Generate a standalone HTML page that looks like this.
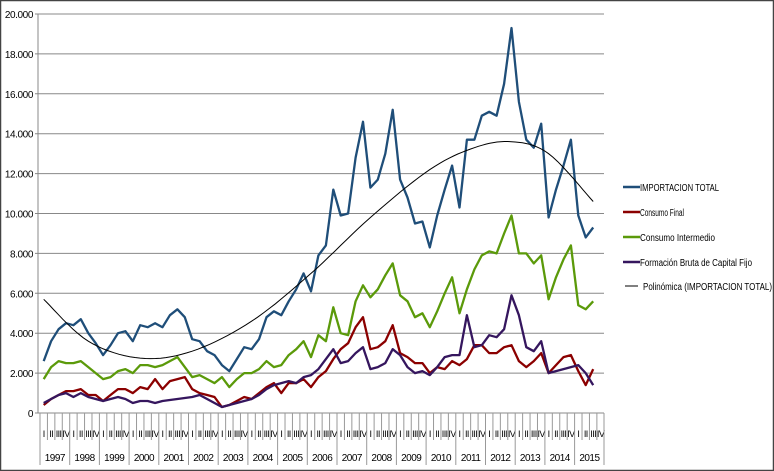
<!DOCTYPE html>
<html><head><meta charset="utf-8"><style>
body{margin:0;background:#fff}
svg{display:block}
text{font-family:"Liberation Sans",sans-serif;fill:#000}
</style></head><body>
<svg id="s" width="774" height="471" xmlns="http://www.w3.org/2000/svg">
<rect x="0.5" y="0.5" width="773" height="470" fill="#fff" stroke="#444" stroke-width="1.5"/>
<g id="g"></g>
<text x="640" y="191" font-size="10" textLength="79" lengthAdjust="spacingAndGlyphs">IMPORTACION TOTAL</text>
<text x="640" y="216" font-size="10" textLength="44" lengthAdjust="spacingAndGlyphs">Consumo Final</text>
<text x="640" y="241" font-size="10" textLength="75" lengthAdjust="spacingAndGlyphs">Consumo Intermedio</text>
<text x="640" y="266" font-size="10" textLength="112" lengthAdjust="spacingAndGlyphs">Formación Bruta de Capital Fijo</text>
<text x="643" y="290" font-size="10" textLength="129" lengthAdjust="spacingAndGlyphs">Polinómica (IMPORTACION TOTAL)</text>
<line x1="623" y1="187" x2="640" y2="187" stroke="#1f4e79" stroke-width="2.5"/>
<line x1="623" y1="212" x2="640" y2="212" stroke="#8b0000" stroke-width="2.5"/>
<line x1="623" y1="237" x2="640" y2="237" stroke="#5b9a0a" stroke-width="2.5"/>
<line x1="623" y1="262" x2="640" y2="262" stroke="#35165e" stroke-width="2.5"/>
<line x1="625" y1="286" x2="638" y2="286" stroke="#000" stroke-width="1"/>
</svg>
<script>
var g=document.getElementById('g'),h='';
var X0=40,YW=29.7,Q=YW/4,Y0=413,S=19.95;
function y(v){return Y0-v*S}
for(var k=0;k<=10;k++){var yy=y(k*2);h+='<line x1="35" y1="'+yy+'" x2="604" y2="'+yy+'" stroke="#888" stroke-width="1"/>';
var lab=k==0?'0':(k*2)+'.000';h+='<text x="33" y="'+(yy+4)+'" font-size="10" text-anchor="end" letter-spacing="-0.4">'+lab+'</text>';}
h+='<line x1="38" y1="14" x2="38" y2="413" stroke="#888"/>';
var qn=['I','II','III','IV'];
for(var i=0;i<19;i++){var xs=X0+i*YW;h+='<line x1="'+xs+'" y1="413" x2="'+xs+'" y2="465" stroke="#999"/>';
for(var q=1;q<4;q++){var xq=xs+q*Q;h+='<line x1="'+xq+'" y1="413" x2="'+xq+'" y2="440" stroke="#999"/>';}
for(var q=0;q<4;q++){h+='<text x="'+(xs+(q+0.5)*Q)+'" y="437" font-size="9" text-anchor="middle" letter-spacing="-0.6">'+qn[q]+'</text>';}
h+='<text x="'+(xs+YW/2)+'" y="461" font-size="10" text-anchor="middle" letter-spacing="-0.5">'+(1997+i)+'</text>';}
h+='<line x1="604" y1="413" x2="604" y2="465" stroke="#999"/>';
var imp=[2.6,3.6,4.2,4.5,4.4,4.7,4.0,3.5,2.9,3.4,4.0,4.1,3.6,4.4,4.3,4.5,4.3,4.9,5.2,4.8,3.7,3.6,3.1,2.9,2.4,2.1,2.7,3.3,3.2,3.7,4.8,5.1,4.9,5.6,6.2,7.0,6.1,7.9,8.4,11.2,9.9,10.0,12.8,14.6,11.3,11.7,13.0,15.2,11.7,10.8,9.5,9.6,8.3,9.9,11.2,12.4,10.3,13.7,13.7,14.9,15.1,14.9,16.5,19.3,15.6,13.7,13.3,14.5,9.8,11.2,12.4,13.7,9.9,8.8,9.3];
var ci=[1.7,2.3,2.6,2.5,2.5,2.6,2.3,2.0,1.7,1.8,2.1,2.2,2.0,2.4,2.4,2.3,2.4,2.6,2.8,2.3,1.8,1.9,1.7,1.5,1.8,1.3,1.7,2.0,2.0,2.2,2.6,2.3,2.4,2.9,3.2,3.6,2.8,3.9,3.6,5.3,4.0,3.9,5.6,6.4,5.8,6.2,6.9,7.5,5.9,5.6,4.8,5.0,4.3,5.1,6.0,6.8,5.0,6.2,7.2,7.9,8.1,8.0,9.0,9.9,8.0,8.0,7.5,7.9,5.7,6.8,7.7,8.4,5.4,5.2,5.6];
var cf=[0.4,0.7,0.9,1.1,1.1,1.2,0.9,0.9,0.6,0.9,1.2,1.2,1.0,1.3,1.2,1.7,1.2,1.6,1.7,1.8,1.2,1.0,0.9,0.8,0.3,0.4,0.6,0.8,0.7,1.0,1.3,1.5,1.0,1.5,1.5,1.7,1.3,1.8,2.1,2.7,3.2,3.5,4.3,4.8,3.2,3.3,3.6,4.4,3.0,2.8,2.5,2.5,2.0,2.3,2.2,2.6,2.4,2.7,3.4,3.4,3.0,3.0,3.3,3.4,2.6,2.3,2.6,3.0,2.0,2.4,2.8,2.9,2.1,1.4,2.2];
var fb=[0.5,0.7,0.9,1.0,0.8,1.0,0.8,0.7,0.6,0.7,0.8,0.7,0.5,0.6,0.6,0.5,0.6,0.65,0.7,0.75,0.8,0.9,0.7,0.5,0.3,0.4,0.5,0.6,0.7,0.9,1.2,1.4,1.5,1.6,1.5,1.8,1.9,2.2,2.7,3.2,2.5,2.6,3.0,3.3,2.2,2.3,2.5,3.2,2.9,2.3,2.0,2.1,1.9,2.3,2.8,2.9,2.9,4.9,3.3,3.4,3.9,3.8,4.2,5.9,4.9,3.3,3.1,3.6,2.0,2.1,2.2,2.3,2.4,2.0,1.4];
function px(i){return X0+(i+0.5)*Q}
function line(d,c){var p=d.map(function(v,i){return px(i).toFixed(1)+','+y(v).toFixed(1)}).join(' ');return '<polyline points="'+p+'" fill="none" stroke="'+c+'" stroke-width="2.3" stroke-linejoin="round"/>';}
h+=line(ci,'#5b9a0a')+line(cf,'#8b0000')+line(fb,'#35165e')+line(imp,'#1f4e79');
var k2=[[0,5.7],[6,3.6],[13,2.75],[20,3.1],[28,4.6],[36,7.0],[44,9.8],[52,12.2],[58,13.3],[63,13.6],[68,13.0],[74,10.6]];
var pts=[];
for(var i=0;i<k2.length-1;i++){var p0=k2[Math.max(0,i-1)],p1=k2[i],p2=k2[i+1],p3=k2[Math.min(k2.length-1,i+2)];
for(var t=0;t<1;t+=0.1){var t2=t*t,t3=t2*t;
function cr(a,b,c,d){return 0.5*(2*b+(-a+c)*t+(2*a-5*b+4*c-d)*t2+(-a+3*b-3*c+d)*t3)}
pts.push(px(cr(p0[0],p1[0],p2[0],p3[0])).toFixed(1)+','+y(cr(p0[1],p1[1],p2[1],p3[1])).toFixed(1));}}
pts.push(px(74).toFixed(1)+','+y(10.6).toFixed(1));
h+='<polyline points="'+pts.join(' ')+'" fill="none" stroke="#000" stroke-width="1"/>';
g.innerHTML=h;
</script>
</body></html>
